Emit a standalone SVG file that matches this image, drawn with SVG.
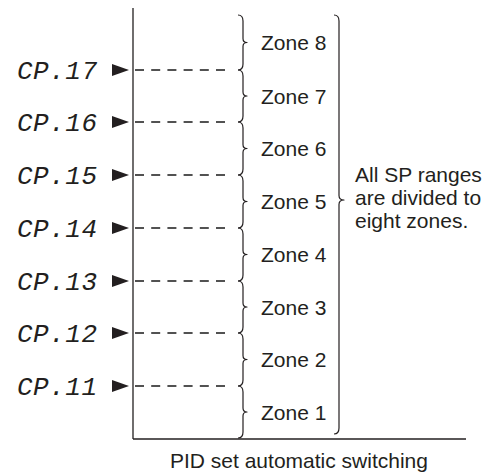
<svg xmlns="http://www.w3.org/2000/svg" width="492" height="476" viewBox="0 0 492 476">
<style>
.cp{font-family:"Liberation Mono","DejaVu Sans Mono",monospace;font-style:italic;font-size:26px;fill:#231f20}
.t{font-family:"Liberation Sans",Arial,sans-serif;font-size:21px;fill:#231f20}
.ax{stroke:#231f20;stroke-width:1.3;fill:none}
.dash{stroke:#1a1a1a;stroke-width:1.4;stroke-dasharray:9 7.2;fill:none}
.br{stroke:#231f20;stroke-width:1.2;fill:none;stroke-linejoin:round}
.arr{fill:#231f20}
</style>
<rect width="492" height="476" fill="#fff"/>
<g id="axes">
<line class="ax" x1="133" y1="8" x2="133" y2="439"/>
<line class="ax" x1="133" y1="439" x2="466" y2="439"/>
</g>
<g id="connectors">
<line class="dash" x1="135" y1="70" x2="226" y2="70"/>
<line class="dash" x1="135" y1="122" x2="226" y2="122"/>
<line class="dash" x1="135" y1="175" x2="226" y2="175"/>
<line class="dash" x1="135" y1="228" x2="226" y2="228"/>
<line class="dash" x1="135" y1="281" x2="226" y2="281"/>
<line class="dash" x1="135" y1="333" x2="226" y2="333"/>
<line class="dash" x1="135" y1="386" x2="226" y2="386"/>
</g>
<g id="cp17"><text class="cp" x="17" y="79" textLength="80">CP.17</text><path class="arr" d="M112,64 L112,76 L129,70Z"/></g>
<g id="cp16"><text class="cp" x="17" y="131" textLength="80">CP.16</text><path class="arr" d="M112,116 L112,128 L129,122Z"/></g>
<g id="cp15"><text class="cp" x="17" y="184" textLength="80">CP.15</text><path class="arr" d="M112,169 L112,181 L129,175Z"/></g>
<g id="cp14"><text class="cp" x="17" y="237" textLength="80">CP.14</text><path class="arr" d="M112,222 L112,234 L129,228Z"/></g>
<g id="cp13"><text class="cp" x="17" y="290" textLength="80">CP.13</text><path class="arr" d="M112,275 L112,287 L129,281Z"/></g>
<g id="cp12"><text class="cp" x="17" y="342" textLength="80">CP.12</text><path class="arr" d="M112,327 L112,339 L129,333Z"/></g>
<g id="cp11"><text class="cp" x="17" y="395" textLength="80">CP.11</text><path class="arr" d="M112,380 L112,392 L129,386Z"/></g>
<g id="zone8"><path class="br" d="M238,15 Q243,15 243,21 L243,38.5 Q243,42.5 247,42.5 Q243,42.5 243,46.5 L243,64 Q243,70 238,70"/><text class="t" x="261" y="50">Zone 8</text></g>
<g id="zone7"><path class="br" d="M238,70 Q243,70 243,76 L243,92 Q243,96 247,96 Q243,96 243,100 L243,116 Q243,122 238,122"/><text class="t" x="261" y="103.5">Zone 7</text></g>
<g id="zone6"><path class="br" d="M238,122 Q243,122 243,128 L243,144.5 Q243,148.5 247,148.5 Q243,148.5 243,152.5 L243,169 Q243,175 238,175"/><text class="t" x="261" y="156">Zone 6</text></g>
<g id="zone5"><path class="br" d="M238,175 Q243,175 243,181 L243,197.5 Q243,201.5 247,201.5 Q243,201.5 243,205.5 L243,222 Q243,228 238,228"/><text class="t" x="261" y="209">Zone 5</text></g>
<g id="zone4"><path class="br" d="M238,228 Q243,228 243,234 L243,250.5 Q243,254.5 247,254.5 Q243,254.5 243,258.5 L243,275 Q243,281 238,281"/><text class="t" x="261" y="262">Zone 4</text></g>
<g id="zone3"><path class="br" d="M238,281 Q243,281 243,287 L243,303 Q243,307 247,307 Q243,307 243,311 L243,327 Q243,333 238,333"/><text class="t" x="261" y="314.5">Zone 3</text></g>
<g id="zone2"><path class="br" d="M238,333 Q243,333 243,339 L243,355.5 Q243,359.5 247,359.5 Q243,359.5 243,363.5 L243,380 Q243,386 238,386"/><text class="t" x="261" y="367">Zone 2</text></g>
<g id="zone1"><path class="br" d="M238,386 Q243,386 243,392 L243,408 Q243,412 247,412 Q243,412 243,416 L243,432 Q243,438 238,438"/><text class="t" x="261" y="420">Zone 1</text></g>
<g id="all-zones">
<path class="br" d="M334,15 Q339,15 339,21 L339,195.5 Q339,200 344,200 Q339,200 339,204.5 L339,428 Q339,434 334,434"/>
<text class="t" x="355" y="182">All SP ranges</text>
<text class="t" x="355" y="205">are divided to</text>
<text class="t" x="355" y="228">eight zones.</text>
</g>
<g id="caption"><text class="t" x="170" y="468">PID set automatic switching</text></g>
</svg>
